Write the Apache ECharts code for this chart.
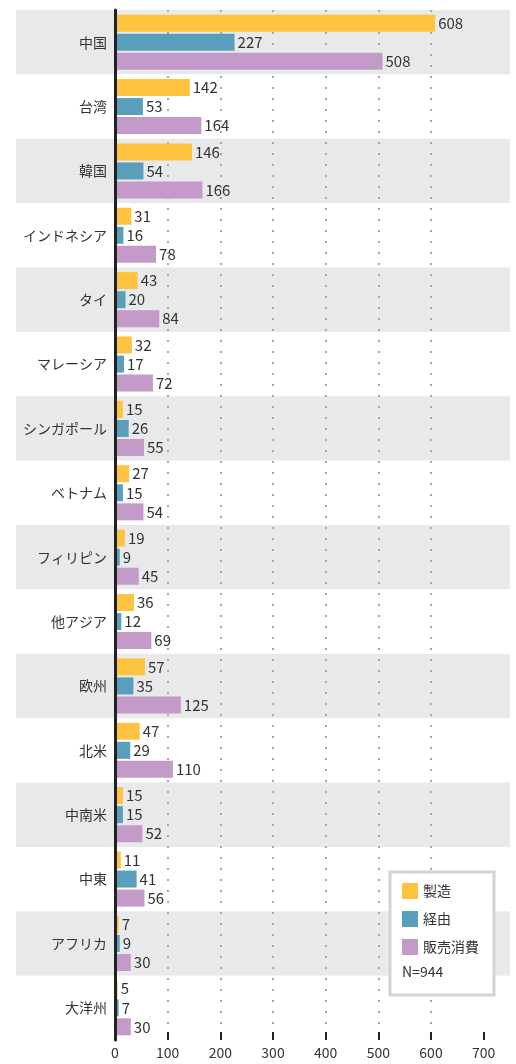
<!DOCTYPE html>
<html>
<head>
<meta charset="utf-8">
<script src="https://cdn.jsdelivr.net/npm/echarts@6/dist/echarts.min.js"></script>
<style>
  html, body { margin: 0; padding: 0; background: #fff; }
  #chart { width: 516px; height: 1064px; }
</style>
</head>
<body>
<div id="chart"></div>
<script>
const regions = ['中国', '台湾', '韓国', 'インドネシア', 'タイ', 'マレーシア', 'シンガポール', 'ベトナム',
    'フィリピン', '他アジア', '欧州', '北米', '中南米', '中東', 'アフリカ', '大洋州'];
const manufacture = [608, 142, 146, 31, 43, 32, 15, 27, 19, 36, 57, 47, 15, 11, 7, 5];
const transit = [227, 53, 54, 16, 20, 17, 26, 15, 9, 12, 35, 29, 15, 41, 9, 7];
const sales = [508, 164, 166, 78, 84, 72, 55, 54, 45, 69, 125, 110, 52, 56, 30, 30];
const xTicks = [0, 100, 200, 300, 400, 500, 600, 700];
const sampleSize = 'N=944';

const font = '"Noto Sans CJK JP", "Noto Sans", sans-serif';
const colors = ['#fec43f', '#599fbc', '#c39ac8'];

function bar(name, data, color) {
    return {
        name: name,
        type: 'bar',
        xAxisIndex: 1,
        yAxisIndex: 1,
        data: data,
        barWidth: 17,
        barGap: '12%',
        itemStyle: { color: color },
        label: {
            show: true,
            position: 'right',
            distance: 3,
            fontSize: 15,
            color: '#333',
            fontFamily: font
        }
    };
}

const myChart = echarts.init(document.getElementById('chart'));
myChart.setOption({
    animation: false,
    textStyle: { fontFamily: font },
    grid: [
        // background bands, wider than the plot
        { left: 16, right: 6, top: 10, bottom: 24 },
        { left: 115, right: 6, top: 10, bottom: 24 }
    ],
    xAxis: [
        { gridIndex: 0, type: 'value', min: 0, max: 1, show: false },
        {
            gridIndex: 1,
            type: 'value',
            min: 0,
            max: 750,
            interval: 100,
            z: 2,
            axisLine: { lineStyle: { color: '#222', width: 2 } },
            axisTick: {
                show: true,
                inside: true,
                length: 8,
                customValues: xTicks,
                lineStyle: { color: '#222', width: 2 }
            },
            axisLabel: {
                customValues: xTicks,
                fontSize: 14,
                color: '#333',
                margin: 6,
                fontFamily: font
            },
            splitLine: {
                show: true,
                showMinLine: false,
                showMaxLine: false,
                lineStyle: { color: '#a8a8a8', width: 2, type: [2, 9] }
            }
        }
    ],
    yAxis: [
        {
            gridIndex: 0,
            type: 'category',
            data: regions,
            inverse: true,
            z: -1,
            axisLine: { show: false },
            axisTick: { show: false },
            axisLabel: { show: false },
            splitLine: { show: false },
            splitArea: { show: true, areaStyle: { color: ['#e8e9eb', '#ffffff'] } }
        },
        {
            gridIndex: 1,
            type: 'category',
            data: regions,
            inverse: true,
            z: 3,
            axisLine: { lineStyle: { color: '#222', width: 3 } },
            axisTick: { show: false },
            axisLabel: { fontSize: 14, color: '#333', margin: 8, fontFamily: font },
            splitLine: { show: false }
        }
    ],
    legend: {
        data: ['製造', '経由', '販売消費'],
        orient: 'vertical',
        left: 390,
        top: 872,
        icon: 'rect',
        itemWidth: 16,
        itemHeight: 16,
        itemGap: 12,
        padding: [11, 15, 40, 12],
        borderColor: '#d3d3d3',
        borderWidth: 3,
        backgroundColor: '#fff',
        textStyle: { fontSize: 14, color: '#333', fontFamily: font }
    },
    title: {
        text: sampleSize,
        left: 402,
        top: 965,
        padding: 0,
        textStyle: { fontSize: 14, fontWeight: 'normal', color: '#333', fontFamily: font }
    },
    series: [
        bar('製造', manufacture, colors[0]),
        bar('経由', transit, colors[1]),
        bar('販売消費', sales, colors[2])
    ]
});
</script>
</body>
</html>
